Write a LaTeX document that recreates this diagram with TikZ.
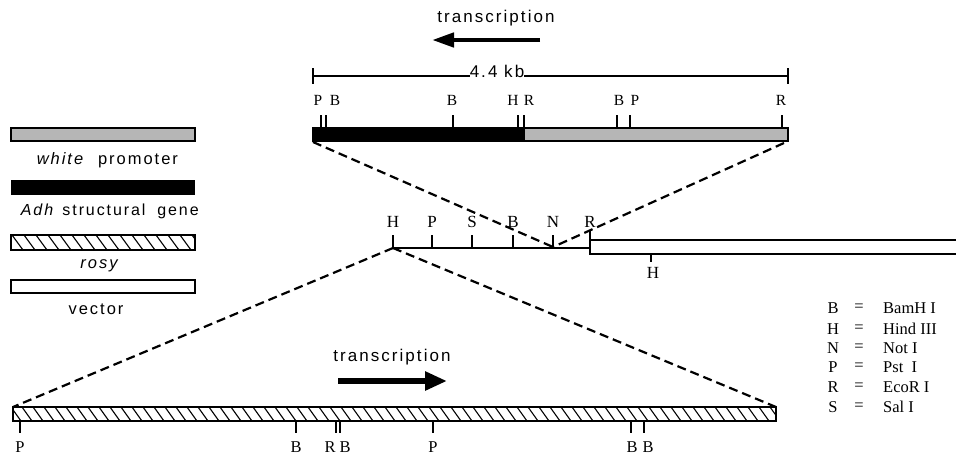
\documentclass[tikz,border=0pt]{standalone}
\usepackage{fontspec}
\setmainfont{Liberation Serif}
\newfontfamily\hsans[LetterSpace=12]{Liberation Sans}
\usetikzlibrary{arrows.meta}
\definecolor{promgray}{RGB}{182,182,182}
\begin{document}
\begin{tikzpicture}[x=1pt,y=-1pt,
  lbl/.style={font=\fontsize{15.5}{15.5}\selectfont, inner sep=0pt},
  midlbl/.style={font=\fontsize{17}{17}\selectfont, inner sep=0pt},
  botlbl/.style={font=\fontsize{16.5}{16.5}\selectfont, inner sep=0pt},
  keylbl/.style={font=\fontsize{16.5}{16.5}\selectfont, inner sep=0pt},
  sanslbl/.style={font=\hsans\fontsize{17}{17}\selectfont, inner sep=0pt},
  leglbl/.style={font=\hsans\fontsize{16.5}{16.5}\selectfont, inner sep=0pt},
  legbase/.style={font=\hsans\fontsize{16}{16}\selectfont, inner sep=0pt, anchor=base},
  tick/.style={line width=1.5pt},
  barline/.style={line width=1.5pt},
  hatch/.style={line width=1.1pt},
  dashln/.style={dash pattern=on 9pt off 5pt, line width=2.2pt},
  toparrow/.style={line width=4.5pt, -{Triangle[length=22pt,width=14pt]}},
  botarrow/.style={line width=5.5pt, -{Triangle[length=22pt,width=18pt]}}]
\useasboundingbox (0,0) rectangle (956,456);

% ---------- top: transcription ----------
\node[sanslbl] (trtop) at (496,18) {transcription};
\coordinate (a1s) at (540,40);
\coordinate (a1e) at (432,40);
\draw[toparrow] (a1s) -- (a1e);

% scale bar
\node[sanslbl] (kb) at (497,71) {4.4 kb};
\coordinate (sbl) at (313,76);
\coordinate (sbr) at (788,76);
\draw[line width=1.3pt] (sbl) -- (kb.west |- sbl);
\draw[line width=1.3pt] (kb.east |- sbr) -- (sbr);
\draw[line width=1.3pt] (313,68) -- (313,84);
\draw[line width=1.3pt] (788,68) -- (788,84);

% top construct bar
\coordinate (tbl) at (313,142);
\coordinate (tbr) at (784,143);
\fill[black] (313,128) rectangle (524,141);
\fill[promgray] (524,128) rectangle (788,141);
\draw[barline] (313,128) rectangle (788,141);
\draw[barline] (524,128) -- (524,141);
\foreach \x in {321,326,453,518,524,617,630,782}
  \draw[tick] (\x,115) -- (\x,128);
\foreach \x/\t/\n in {318/P/tp1,335/B/tb1,452/B/tb2,513/H/th1,529/R/tr1,619/B/tb3,635/P/tp2,781/R/tr2}
  \node[lbl] (\n) at (\x,100) {\t};

% ---------- left legend ----------
\fill[promgray] (11,128) rectangle (195,141);
\draw[barline] (11,128) rectangle (195,141);
\node[legbase,font=\hsans\fontsize{16.5}{16.5}\selectfont] (lg1a) at (60,164) {\itshape white};
\node[legbase,font=\hsans\fontsize{16.5}{16.5}\selectfont] (lg1b) at (138,164) {promoter};

\fill[black] (11,180) rectangle (195,195);
\node[legbase] (lg2a) at (37,215) {\itshape Adh};
\node[legbase] (lg2b) at (104,215) {structural};
\node[legbase] (lg2c) at (178,215) {gene};

\begin{scope}
  \clip (11,235) rectangle (195,250);
  \foreach \x in {0,12,...,200}
    \draw[hatch] (\x,235) -- (\x+11,250);
\end{scope}
\draw[barline] (11,235) rectangle (195,250);
\node[leglbl] (lg3) at (99,266) {\itshape rosy};

\draw[barline] (11,280) rectangle (195,293);
\node[leglbl] (lg4) at (96,309) {vector};

% ---------- middle: insertion site ----------
\coordinate (mH) at (393,248);
\coordinate (mN) at (553,247);
\draw[line width=1.5pt] (392,248) -- (590,248);
\foreach \x in {393,432,472,513,553}
  \draw[tick] (\x,235) -- (\x,248);
\draw[barline] (958,240) -- (590,240) -- (590,254) -- (958,254);
\draw[tick] (590,231) -- (590,240);
\foreach \x/\t/\n in {393/H/mh,432/P/mp,472/S/ms,513/B/mb,553/N/mn,590/R/mr}
  \node[midlbl] (\n) at (\x,222) {\t};
\draw[tick] (651,254) -- (651,262);
\node[midlbl] (vh) at (653,273) {H};

% ---------- dashed expansion lines ----------
\coordinate (bbl) at (13,407);
\coordinate (bbr) at (776,407);
\draw[dashln] (tbl) -- (mN);
\draw[dashln] (tbr) -- (mN);
\draw[dashln] (mH) -- (bbl);
\draw[dashln] (mH) -- (bbr);

% ---------- bottom: rosy fragment ----------
\node[sanslbl] (trbot) at (392,357) {transcription};
\coordinate (a2s) at (338,381);
\coordinate (a2e) at (447,381);
\draw[botarrow] (a2s) -- (a2e);

\begin{scope}
  \clip (13,407) rectangle (776,421);
  \foreach \x in {0,11,...,790}
    \draw[hatch] (\x,407) -- (\x+10,421);
\end{scope}
\draw[barline] (13,407) rectangle (776,421);
\foreach \x in {20,296,336,340,433,631,644}
  \draw[tick] (\x,421) -- (\x,433);
\foreach \x/\t/\n in {20/P/bp1,296/B/bb1,330/R/br1,345/B/bb2,433/P/bp2,632/B/bb3,648/B/bb4}
  \node[botlbl] (\n) at (\x,447) {\t};

% ---------- right key ----------
\foreach \y/\a/\b/\n in {308/B/BamH I/k1,329/H/Hind III/k2,348/N/Not I/k3,367/P/Pst\ \ I/k4,387/R/EcoR I/k5,407/S/Sal I/k6}{
  \node[keylbl] (\n a) at (833,\y) {\a};
  \node[keylbl] (\n e) at (859,\y) {=};
  \node[keylbl,anchor=west] (\n b) at (883,\y) {\b};
}
\end{tikzpicture}
\end{document}
